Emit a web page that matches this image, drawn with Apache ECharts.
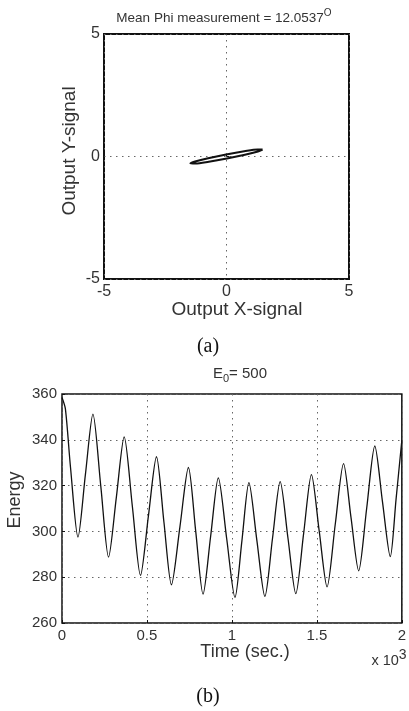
<!DOCTYPE html>
<html>
<head>
<meta charset="utf-8">
<script src="https://cdn.jsdelivr.net/npm/echarts@6/dist/echarts.min.js"></script>
<style>
  html, body { margin: 0; padding: 0; background: #fff; }
  #chart { width: 409px; height: 711px; }
</style>
</head>
<body>
<div id="chart"></div>
<script>
// (a) X/Y output signals, one closed loop of the thin ellipse
const loopX = [1.473, 1.268, 0.722, -0.016, -0.751, -1.284, -1.473, -1.268, -0.722, 0.016, 0.751, 1.284, 1.473];
const loopY = [0.286, 0.290, 0.216, 0.083, -0.071, -0.207, -0.286, -0.290, -0.216, -0.083, 0.071, 0.207, 0.286];

// (b) energy vs time (peaks, troughs and midpoints)
const timeSec = [0, 20, 50, 94, 138, 182, 228, 274, 320, 366, 414, 462, 509, 556, 600, 644, 694, 744,
  787, 830, 875, 920, 969, 1018, 1059, 1100, 1147, 1194, 1239, 1284, 1330, 1376, 1422, 1468,
  1514, 1560, 1608, 1657, 1701, 1746, 1793, 1841, 1886, 1932, 1966, 2000];
const energy = [358.5, 353.5, 328, 297.5, 325, 351.2, 320, 288.8, 315, 341.3, 311, 280.8, 307, 332.6, 304, 276.7, 302, 327.9,
  300, 272.6, 298, 323.4, 297, 271.2, 296, 321.3, 296, 271.6, 297, 321.7, 297, 272.8, 299, 324.8,
  300, 275.8, 303, 329.6, 306, 282.8, 310, 337.3, 313, 289, 314, 339.8];

const xTicksA = [-5, 0, 5];
const yTicksB = [260, 280, 300, 320, 340, 360];

const sans = 'Liberation Sans, Arial, sans-serif';
const serif = 'Liberation Serif, Times New Roman, serif';
const txt = '#333';
const dotted = { color: '#666', width: 1, type: [1.5, 4.5] };

const loopData = loopX.map((x, i) => [x, loopY[i]]);
const energyData = timeSec.map((t, i) => [t, energy[i]]);

const chart = echarts.init(document.getElementById('chart'));

const option = {
  animation: false,
  backgroundColor: '#fff',
  grid: [
    { left: 104, top: 34, width: 245, height: 245, show: true, borderColor: '#111', borderWidth: 2, backgroundColor: 'transparent' },
    { left: 62, top: 394, width: 340, height: 229, show: true, borderColor: '#111', borderWidth: 1.5, backgroundColor: 'transparent' }
  ],
  xAxis: [
    {
      gridIndex: 0, type: 'value', min: xTicksA[0], max: xTicksA[2], interval: 5,
      axisLine: { show: false },
      axisTick: { show: true, inside: true, length: 3, lineStyle: { color: '#111' } },
      axisLabel: { color: txt, fontFamily: sans, fontSize: 16, margin: 5 },
      splitLine: { show: true, lineStyle: dotted }
    },
    {
      gridIndex: 1, type: 'value', min: 0, max: 2000, interval: 500,
      axisLine: { show: false },
      axisTick: { show: true, inside: true, length: 3, lineStyle: { color: '#111' } },
      axisLabel: { color: txt, fontFamily: sans, fontSize: 15, margin: 5, formatter: v => String(v / 1000) },
      splitLine: { show: true, lineStyle: dotted }
    }
  ],
  yAxis: [
    {
      gridIndex: 0, type: 'value', min: -5, max: 5, interval: 5,
      axisLine: { show: false },
      axisTick: { show: true, inside: true, length: 3, lineStyle: { color: '#111' } },
      axisLabel: { color: txt, fontFamily: sans, fontSize: 16, margin: 4 },
      splitLine: { show: true, lineStyle: dotted }
    },
    {
      gridIndex: 1, type: 'value', min: yTicksB[0], max: yTicksB[yTicksB.length - 1], interval: 20,
      axisLine: { show: false },
      axisTick: { show: true, inside: true, length: 3, lineStyle: { color: '#111' } },
      axisLabel: { color: txt, fontFamily: sans, fontSize: 15, margin: 5 },
      splitLine: { show: true, lineStyle: dotted }
    }
  ],
  series: [
    {
      type: 'line', xAxisIndex: 0, yAxisIndex: 0, data: loopData,
      showSymbol: false, smooth: 0.3, lineStyle: { color: '#111', width: 2 }
    },
    {
      type: 'line', xAxisIndex: 1, yAxisIndex: 1, data: energyData,
      showSymbol: false, smooth: 0.28, lineStyle: { color: '#111', width: 1.3 }
    }
  ],
  graphic: [
    {
      type: 'text', x: 224, y: 18,
      style: {
        text: 'Mean Phi measurement = 12.0537{s|O}', fill: txt, font: '13.5px ' + sans,
        align: 'center', verticalAlign: 'middle',
        rich: { s: { fontSize: 10, fontFamily: sans, fill: txt, verticalAlign: 'top', padding: [0, 0, 10, 0] } }
      }
    },
    {
      type: 'text', x: 70, y: 151, rotation: Math.PI / 2,
      style: { text: 'Output Y-signal', fill: txt, font: '19px ' + sans, align: 'center', verticalAlign: 'middle' }
    },
    {
      type: 'text', x: 237, y: 310,
      style: { text: 'Output X-signal', fill: txt, font: '19px ' + sans, align: 'center', verticalAlign: 'middle' }
    },
    {
      type: 'text', x: 208, y: 347,
      style: { text: '(a)', fill: '#111', font: '20px ' + serif, align: 'center', verticalAlign: 'middle' }
    },
    {
      type: 'text', x: 240, y: 374,
      style: {
        text: 'E{s|0}= 500', fill: txt, font: '15px ' + sans, align: 'center', verticalAlign: 'middle',
        rich: { s: { fontSize: 11, fontFamily: sans, fill: txt, padding: [10, 0, 0, 0] } }
      }
    },
    {
      type: 'text', x: 15, y: 500, rotation: Math.PI / 2,
      style: { text: 'Energy', fill: txt, font: '18px ' + sans, align: 'center', verticalAlign: 'middle' }
    },
    {
      type: 'text', x: 245, y: 652,
      style: { text: 'Time (sec.)', fill: txt, font: '18px ' + sans, align: 'center', verticalAlign: 'middle' }
    },
    {
      type: 'text', x: 389, y: 661,
      style: {
        text: 'x 10{s|3}', fill: txt, font: '14.5px ' + sans, align: 'center', verticalAlign: 'middle',
        rich: { s: { fontSize: 14, fontFamily: sans, fill: txt, padding: [0, 0, 12, 0] } }
      }
    },
    {
      type: 'text', x: 208, y: 697,
      style: { text: '(b)', fill: '#111', font: '20px ' + serif, align: 'center', verticalAlign: 'middle' }
    }
  ]
};

chart.setOption(option);
</script>
</body>
</html>
